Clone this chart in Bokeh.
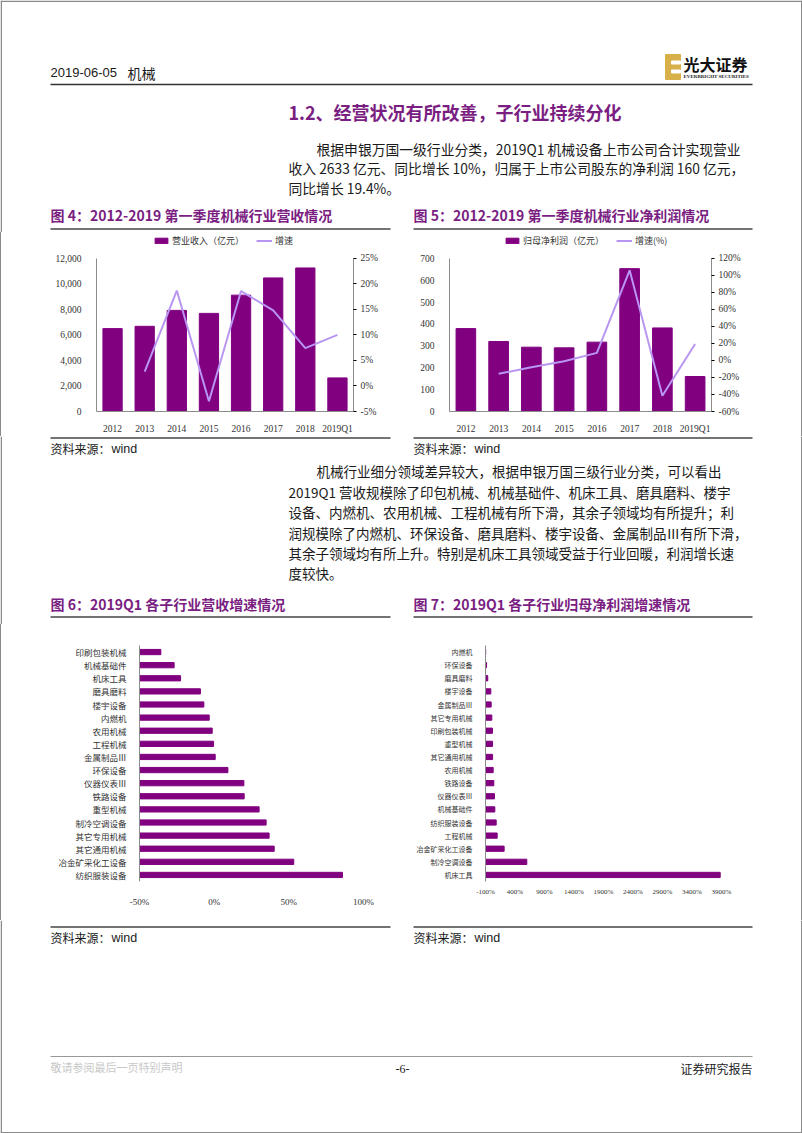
from bokeh.plotting import figure
from bokeh.models import (Range1d, FactorRange, LinearAxis, NumeralTickFormatter,
                          FixedTicker, Legend, LegendItem, Div)
from bokeh.layouts import column, row
from bokeh.core.properties import value
from bokeh.embed import file_html
from bokeh.resources import INLINE

# ---------------- data ----------------
years = ["2012", "2013", "2014", "2015", "2016", "2017", "2018", "2019Q1"]
revenue = [6494, 6675, 7922, 7688, 9117, 10468, 11247, 2633]          # 亿元
revenue_growth = [2.8, 18.7, -3.0, 18.6, 14.8, 7.4, 10.0]            # %, 2013..2019Q1
profit = [379, 320, 294, 291, 317, 653, 382, 160]                     # 亿元
profit_growth = [-15.6, -8.1, -1.0, 8.9, 106.0, -41.5, 19.4]         # %, 2013..2019Q1

rev_sectors = ["印刷包装机械", "机械基础件", "机床工具", "磨具磨料", "楼宇设备", "内燃机",
               "农用机械", "工程机械", "金属制品Ⅲ", "环保设备", "仪器仪表Ⅲ", "铁路设备",
               "重型机械", "制冷空调设备", "其它专用机械", "其它通用机械", "冶金矿采化工设备",
               "纺织服装设备"]
rev_sector_growth = [-35.7, -26.8, -22.5, -9.2, -6.9, -3.3, -1.3, -0.4, 0.7, 9.2, 19.9,
                     20.1, 30.1, 34.8, 36.8, 40.2, 53.3, 85.9]

prof_sectors = ["内燃机", "环保设备", "磨具磨料", "楼宇设备", "金属制品Ⅲ", "其它专用机械",
                "印刷包装机械", "重型机械", "其它通用机械", "农用机械", "铁路设备", "仪器仪表Ⅲ",
                "机械基础件", "纺织服装设备", "工程机械", "冶金矿采化工设备", "制冷空调设备",
                "机床工具"]
prof_sector_growth = [-97, -82, -62, -10, -4, 7, 18, 19, 20, 30, 41, 52, 58, 81, 98, 216,
                      600, 3878]

# ---------------- styles ----------------
PURPLE = "#800080"
LINE_C = "#B996F2"
TITLE_C = "#7A1E82"
AXIS_C = "#8c8c8c"
EDGE_C = "#8a8a8a"
CJK = "Noto Sans CJK SC"
SERIF = "Liberation Serif"
SANS = "Liberation Sans"
W = 802


def band(y0, y1, top_edge=False, bottom_edge=False):
    p = figure(width=W, height=y1 - y0, x_range=Range1d(0, W), y_range=Range1d(y1, y0),
               output_backend="svg", toolbar_location=None, x_axis_type=None,
               y_axis_type=None, min_border=0)
    p.min_border_left = p.min_border_right = p.min_border_top = p.min_border_bottom = 0
    p.outline_line_color = None
    p.background_fill_color = "white"
    p.border_fill_color = "white"
    p.segment(x0=[0.75, 801.25], y0=[y0, y0], x1=[0.75, 801.25], y1=[y1, y1],
              line_color=EDGE_C, line_width=1.5)
    if top_edge:
        p.segment(x0=[0], y0=[0.75], x1=[W], y1=[0.75], line_color=EDGE_C, line_width=1.5)
    if bottom_edge:
        p.segment(x0=[0], y0=[1132.25], x1=[W], y1=[1132.25], line_color=EDGE_C, line_width=1.5)
    return p


def edge(h, side):
    return Div(text="", width=2, height=h,
               styles={"border-" + side: "1.5px solid " + EDGE_C, "box-sizing": "border-box",
                       "background-color": "white", "margin": "0", "padding": "0"})


def txt(p, x, y, s, size="14px", font=CJK, color="#1a1a1a", bold=False, align="left"):
    p.text(x=[x], y=[y], text=[s], text_font=value(font), text_font_size=size,
           text_color=color, text_baseline="middle", text_align=align,
           text_font_style="bold" if bold else "normal")


def hline(p, x0, x1, y, color="#444444", w=1.5):
    p.segment(x0=[x0], y0=[y], x1=[x1], y1=[y], line_color=color, line_width=w)


# ---------------- band A : header ----------------
A = band(0, 232, top_edge=True)
txt(A, 50, 72, "2019-06-05", size="13px", font=SANS)
txt(A, 127, 72, "机械", size="14px")
hline(A, 50, 752, 84, color="#333333", w=1.5)
A.quad(left=[665], right=[680], top=[54], bottom=[79], color="#D8B04A")
A.quad(left=[671, 671], right=[680, 680], top=[60.5, 69.5], bottom=[63.5, 72.5], color="white")
txt(A, 683, 63, "光大证券", size="16px", bold=True, color="#111111")
txt(A, 683, 75.5, "EVERBRIGHT SECURITIES", size="5px", font=SERIF, bold=True, color="#222222")
txt(A, 288, 111, "1.2、经营状况有所改善，子行业持续分化", size="18px", bold=True, color=TITLE_C)
p1 = ["根据申银万国一级行业分类，2019Q1 机械设备上市公司合计实现营业",
      "收入 2633 亿元、同比增长 10%，归属于上市公司股东的净利润 160 亿元，",
      "同比增长 19.4%。"]
txt(A, 316, 148, p1[0], size="13.8px")
txt(A, 288, 167.5, p1[1], size="13.8px")
txt(A, 288, 187, p1[2], size="13.8px")
txt(A, 50, 214, "图 4：2012-2019 第一季度机械行业营收情况", size="14px", bold=True, color=TITLE_C)
txt(A, 413, 214, "图 5：2012-2019 第一季度机械行业净利润情况", size="14px", bold=True, color=TITLE_C)
hline(A, 50, 390, 228.5)
hline(A, 413, 752, 228.5)


# ---------------- charts 4 & 5 ----------------
# frame spans y 232..412 ; data top (ymax) sits at y 258
EXT = (412 - 232) / (412 - 258)


def combo_chart(width, vals, growth, ymax, ystep, pmin, pmax, pstep, lr, legend_labels,
                legend_x):
    left, right = lr
    p = figure(width=width, height=204, x_range=FactorRange(*years),
               y_range=Range1d(0, ymax * EXT), output_backend="svg", toolbar_location=None)
    p.min_border_left, p.min_border_right = left, right
    p.min_border_top, p.min_border_bottom = 0, 24
    p.outline_line_color = None
    p.xgrid.visible = False
    p.ygrid.visible = False
    p.extra_y_ranges = {"pct": Range1d(pmin / 100, (pmin + (pmax - pmin) * EXT) / 100)}
    bars = p.vbar(x=years, top=vals, width=0.6, color=PURPLE)
    ln = p.line(x=years[1:], y=[g / 100 for g in growth], y_range_name="pct",
                line_color=LINE_C, line_width=2)
    ax_r = LinearAxis(y_range_name="pct")
    p.add_layout(ax_r, "right")
    ax_r.ticker = FixedTicker(ticks=[v / 100 for v in range(pmin, pmax + 1, pstep)])
    ax_r.bounds = (pmin / 100, pmax / 100)
    ax_r.formatter = NumeralTickFormatter(format="0%")
    ax_r.minor_tick_line_color = None
    ax_r.major_tick_out = 3
    ax_r.major_tick_in = 0
    ax_r.major_label_standoff = 4
    ax_l = p.yaxis[0]
    ax_l.ticker = FixedTicker(ticks=list(range(0, ymax + 1, ystep)))
    ax_l.bounds = (0, ymax)
    ax_l.formatter = NumeralTickFormatter(format="0,0")
    ax_l.minor_tick_line_color = None
    ax_l.major_tick_line_color = None
    ax_l.major_label_standoff = 9
    for ax in (ax_l, ax_r, p.xaxis[0]):
        ax.axis_line_color = AXIS_C
        ax.major_label_text_font = SERIF
        ax.major_label_text_font_size = "9.5px"
        ax.major_label_text_color = "#333333"
    p.xaxis.major_tick_line_color = None
    p.xaxis.minor_tick_line_color = None
    p.xaxis.major_label_standoff = 6
    lg = Legend(items=[LegendItem(label=legend_labels[0], renderers=[bars]),
                       LegendItem(label=legend_labels[1], renderers=[ln])],
                orientation="horizontal", location=(legend_x, 164),
                glyph_width=16, glyph_height=7, label_height=12, label_standoff=3,
                spacing=12, padding=0, margin=0, border_line_color=None,
                background_fill_alpha=0, label_text_font=CJK,
                label_text_font_size="9px", label_text_color="#333333")
    p.add_layout(lg)
    return p


c4 = combo_chart(399, revenue, revenue_growth, 12000, 2000, -5, 25, 5, (94, 48),
                 ("营业收入（亿元）", "增速"), 57)
c5 = combo_chart(399, profit, profit_growth, 700, 100, -60, 120, 20, (48, 89),
                 ("归母净利润（亿元）", "增速(%)"), 55)

# ---------------- band C ----------------
C = band(436, 624)
hline(C, 50, 390, 437.5)
hline(C, 413, 752, 437.5)
txt(C, 50, 448, "资料来源：", size="12px")
txt(C, 111, 448, "wind", size="12.5px", font=SANS)
txt(C, 413, 448, "资料来源：", size="12px")
txt(C, 474, 448, "wind", size="12.5px", font=SANS)
p2 = ["机械行业细分领域差异较大，根据申银万国三级行业分类，可以看出",
      "2019Q1 营收规模除了印包机械、机械基础件、机床工具、磨具磨料、楼宇",
      "设备、内燃机、农用机械、工程机械有所下滑，其余子领域均有所提升；利",
      "润规模除了内燃机、环保设备、磨具磨料、楼宇设备、金属制品Ⅲ有所下滑，",
      "其余子领域均有所上升。特别是机床工具领域受益于行业回暖，利润增长速",
      "度较快。"]
ys = [470, 491, 511.5, 532, 552, 572]
for i, (s, yy) in enumerate(zip(p2, ys)):
    txt(C, 316 if i == 0 else 288, yy, s, size="13.5px")
txt(C, 50, 603, "图 6：2019Q1 各子行业营收增速情况", size="14px", bold=True, color=TITLE_C)
txt(C, 413, 603, "图 7：2019Q1 各子行业归母净利润增速情况", size="14px", bold=True, color=TITLE_C)
hline(C, 50, 390, 616.5)
hline(C, 413, 752, 616.5)


# ---------------- charts 6 & 7 ----------------
def hbar_chart(width, names, vals, xmin, xmax, xstep, borders, lab_size, tick_size, standoff_x):
    left, right, top, bottom = borders
    p = figure(width=width, height=296, y_range=FactorRange(*list(reversed(names))),
               x_range=Range1d(xmin / 100, xmax / 100), output_backend="svg",
               toolbar_location=None)
    p.min_border_left, p.min_border_right = left, right
    p.min_border_top, p.min_border_bottom = top, bottom
    p.outline_line_color = None
    p.xgrid.visible = False
    p.ygrid.visible = False
    p.hbar(y=names, left=xmin / 100, right=[v / 100 for v in vals], height=0.4, color=PURPLE)
    p.xaxis.ticker = FixedTicker(ticks=[v / 100 for v in range(xmin, xmax + 1, xstep)])
    p.xaxis.formatter = NumeralTickFormatter(format="0%")
    p.xaxis.axis_line_color = None
    p.xaxis.major_tick_line_color = None
    p.xaxis.minor_tick_line_color = None
    p.xaxis.major_label_standoff = standoff_x
    p.xaxis.major_label_text_font = SERIF
    p.xaxis.major_label_text_font_size = tick_size
    p.xaxis.major_label_text_color = "#333333"
    p.yaxis.axis_line_color = AXIS_C
    p.yaxis.major_tick_line_color = None
    p.yaxis.minor_tick_line_color = None
    p.yaxis.major_label_standoff = 7
    p.yaxis.major_label_text_font = CJK
    p.yaxis.major_label_text_font_size = lab_size
    p.yaxis.major_label_text_color = "#333333"
    return p


c6 = hbar_chart(399, rev_sectors, rev_sector_growth, -50, 100, 50, (137, 38, 9, 28),
                "8.5px", "9px", 9)
c7 = hbar_chart(399, prof_sectors, prof_sector_growth, -100, 3900, 500, (84, 79, 21, 39),
                "7px", "7px", 0)

# ---------------- band E ----------------
E = band(920, 1133, bottom_edge=True)
hline(E, 50, 390, 926.5)
hline(E, 413, 752, 926.5)
txt(E, 50, 937, "资料来源：", size="12px")
txt(E, 111, 937, "wind", size="12.5px", font=SANS)
txt(E, 413, 937, "资料来源：", size="12px")
txt(E, 474, 937, "wind", size="12.5px", font=SANS)
hline(E, 50, 752, 1056, color="#999999", w=1)
txt(E, 50, 1066, "敬请参阅最后一页特别声明", size="11px", color="#c8c8c8")
txt(E, 402, 1068, "-6-", size="12px", font=SERIF, align="center", color="#222222")
txt(E, 752, 1068, "证券研究报告", size="12px", align="right", color="#222222")

page = column(A,
              row(edge(204, "left"), c4, c5, edge(204, "right"), spacing=0),
              C,
              row(edge(296, "left"), c6, c7, edge(296, "right"), spacing=0),
              E, spacing=0)

open("out.html", "w").write(file_html(page, INLINE))
